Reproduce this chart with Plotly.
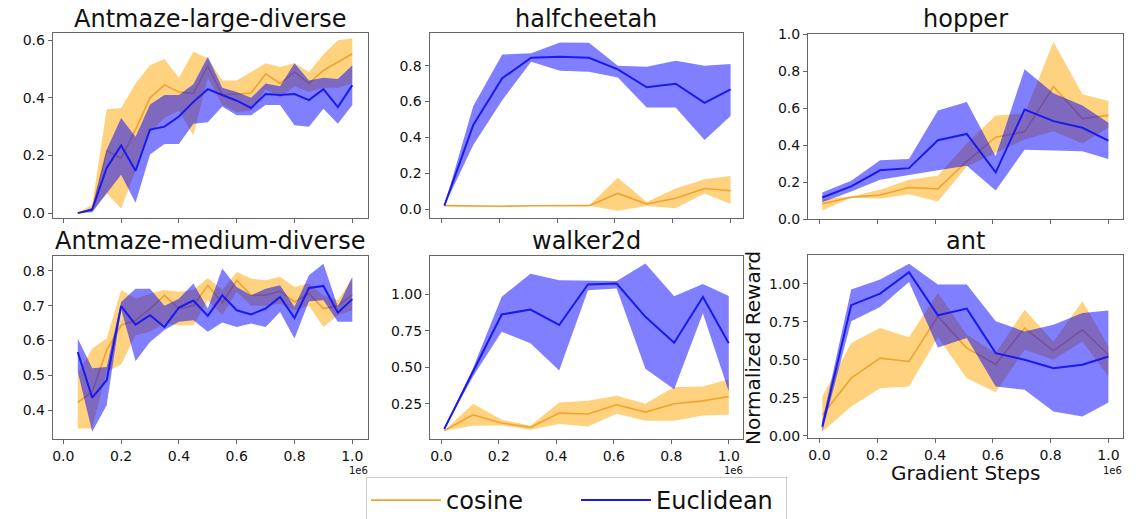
import plotly.graph_objects as go

W, H = 1142, 519

# ---------------- data ----------------
steps_antmaze = [50000, 100000, 150000, 200000, 250000, 300000, 350000, 400000, 450000, 500000,
                 550000, 600000, 650000, 700000, 750000, 800000, 850000, 900000, 950000, 1000000]
steps_mujoco = [10000, 110000, 210000, 310000, 410000, 510000, 610000, 710000, 810000, 910000, 1000000]

large_cos_mean = [0.0, 0.015, 0.217, 0.19, 0.29, 0.40, 0.445, 0.42, 0.415, 0.51, 0.41, 0.413, 0.417, 0.483, 0.45, 0.49, 0.45, 0.495, 0.525, 0.553]
large_cos_hi = [0.0, 0.03, 0.36, 0.365, 0.45, 0.513, 0.535, 0.47, 0.56, 0.537, 0.46, 0.46, 0.49, 0.52, 0.507, 0.52, 0.49, 0.55, 0.60, 0.606]
large_cos_lo = [0.0, 0.006, 0.07, 0.015, 0.145, 0.28, 0.33, 0.355, 0.27, 0.47, 0.375, 0.35, 0.355, 0.43, 0.40, 0.44, 0.42, 0.435, 0.435, 0.45]
large_euc_mean = [0.0, 0.012, 0.157, 0.235, 0.147, 0.29, 0.30, 0.335, 0.386, 0.43, 0.41, 0.39, 0.365, 0.413, 0.41, 0.413, 0.392, 0.43, 0.368, 0.444]
large_euc_hi = [0.0, 0.018, 0.22, 0.33, 0.265, 0.377, 0.41, 0.41, 0.447, 0.543, 0.435, 0.42, 0.40, 0.45, 0.44, 0.52, 0.46, 0.47, 0.465, 0.513]
large_euc_lo = [0.0, 0.003, 0.066, 0.133, 0.036, 0.203, 0.24, 0.24, 0.31, 0.315, 0.37, 0.34, 0.34, 0.375, 0.375, 0.305, 0.30, 0.362, 0.31, 0.375]

med_cos_mean = [0.422, 0.453, 0.572, 0.644, 0.658, 0.692, 0.73, 0.692, 0.70, 0.759, 0.708, 0.773, 0.73, 0.73, 0.742, 0.711, 0.735, 0.692, 0.70, 0.732]
med_cos_hi = [0.505, 0.577, 0.606, 0.745, 0.72, 0.735, 0.745, 0.74, 0.745, 0.78, 0.745, 0.797, 0.778, 0.773, 0.783, 0.754, 0.764, 0.73, 0.716, 0.778]
med_cos_lo = [0.347, 0.347, 0.51, 0.531, 0.615, 0.625, 0.649, 0.644, 0.644, 0.716, 0.673, 0.74, 0.70, 0.70, 0.706, 0.687, 0.70, 0.639, 0.673, 0.687]
med_euc_mean = [0.567, 0.436, 0.486, 0.699, 0.646, 0.673, 0.639, 0.695, 0.715, 0.671, 0.73, 0.687, 0.675, 0.692, 0.725, 0.665, 0.751, 0.757, 0.68, 0.719]
med_euc_hi = [0.606, 0.52, 0.524, 0.711, 0.749, 0.749, 0.70, 0.72, 0.764, 0.692, 0.807, 0.754, 0.73, 0.749, 0.759, 0.697, 0.788, 0.821, 0.697, 0.783]
med_euc_lo = [0.51, 0.338, 0.414, 0.69, 0.541, 0.596, 0.63, 0.654, 0.658, 0.625, 0.652, 0.639, 0.649, 0.639, 0.682, 0.606, 0.713, 0.716, 0.654, 0.654]

hc_cos_mean = [0.019, 0.017, 0.016, 0.018, 0.019, 0.019, 0.087, 0.028, 0.06, 0.115, 0.102]
hc_cos_hi = [0.019, 0.018, 0.017, 0.019, 0.02, 0.02, 0.175, 0.04, 0.115, 0.167, 0.184]
hc_cos_lo = [0.019, 0.016, 0.015, 0.017, 0.018, 0.018, -0.01, 0.017, 0.004, 0.087, 0.028]
hc_euc_mean = [0.019, 0.47, 0.73, 0.845, 0.85, 0.845, 0.78, 0.68, 0.70, 0.593, 0.668]
hc_euc_hi = [0.019, 0.575, 0.863, 0.87, 0.93, 0.928, 0.80, 0.795, 0.828, 0.80, 0.81]
hc_euc_lo = [0.019, 0.357, 0.608, 0.822, 0.772, 0.767, 0.735, 0.567, 0.567, 0.385, 0.52]

hop_cos_mean = [0.082, 0.118, 0.13, 0.17, 0.163, 0.312, 0.442, 0.471, 0.716, 0.543, 0.56]
hop_cos_hi = [0.107, 0.121, 0.158, 0.212, 0.234, 0.41, 0.56, 0.569, 0.958, 0.674, 0.638]
hop_cos_lo = [0.045, 0.116, 0.109, 0.134, 0.094, 0.284, 0.357, 0.43, 0.475, 0.408, 0.493]
hop_euc_mean = [0.116, 0.176, 0.263, 0.275, 0.426, 0.46, 0.252, 0.592, 0.529, 0.493, 0.424]
hop_euc_hi = [0.143, 0.207, 0.317, 0.324, 0.587, 0.632, 0.339, 0.81, 0.68, 0.614, 0.52]
hop_euc_lo = [0.09, 0.149, 0.212, 0.239, 0.263, 0.288, 0.154, 0.375, 0.371, 0.366, 0.324]

walk_cos_mean = [0.066, 0.175, 0.118, 0.089, 0.186, 0.18, 0.243, 0.193, 0.25, 0.27, 0.30]
walk_cos_hi = [0.066, 0.25, 0.141, 0.10, 0.259, 0.27, 0.305, 0.25, 0.364, 0.368, 0.418]
walk_cos_lo = [0.066, 0.10, 0.102, 0.073, 0.111, 0.095, 0.182, 0.134, 0.134, 0.17, 0.175]
walk_euc_mean = [0.077, 0.47, 0.861, 0.895, 0.789, 1.066, 1.073, 0.845, 0.668, 0.98, 0.664]
walk_euc_hi = [0.077, 0.493, 0.982, 1.14, 1.095, 1.095, 1.09, 1.21, 0.986, 1.07, 0.988]
walk_euc_lo = [0.077, 0.436, 0.743, 0.664, 0.477, 1.027, 1.039, 0.489, 0.35, 0.87, 0.334]

ant_cos_mean = [0.137, 0.379, 0.511, 0.489, 0.786, 0.577, 0.471, 0.709, 0.559, 0.698, 0.533]
ant_cos_hi = [0.258, 0.61, 0.709, 0.648, 0.941, 0.665, 0.544, 0.83, 0.621, 0.885, 0.59]
ant_cos_lo = [0.026, 0.192, 0.313, 0.324, 0.648, 0.379, 0.286, 0.566, 0.50, 0.621, 0.39]
ant_euc_mean = [0.06, 0.86, 0.936, 1.077, 0.793, 0.837, 0.544, 0.50, 0.445, 0.467, 0.522]
ant_euc_hi = [0.097, 0.963, 1.029, 1.132, 0.996, 0.996, 0.753, 0.687, 0.731, 0.808, 0.824]
ant_euc_lo = [0.026, 0.753, 0.848, 1.013, 0.581, 0.643, 0.324, 0.302, 0.159, 0.126, 0.218]

titles = ["Antmaze-large-diverse", "halfcheetah", "hopper",
          "Antmaze-medium-diverse", "walker2d", "ant"]
x_ticks = [0, 200000, 400000, 600000, 800000, 1000000]
x_tick_text = ["0.0", "0.2", "0.4", "0.6", "0.8", "1.0"]

# ---------------- styling / layout ----------------
COS_LINE = "#f0a330"
EUC_LINE = "#1a1aee"
COS_FILL = "rgba(255,165,0,0.5)"
EUC_FILL = "rgba(0,0,255,0.5)"
FONT = "DejaVu Sans"
BOX = "#666666"

panels = [
    dict(x=steps_antmaze, cos=(large_cos_mean, large_cos_hi, large_cos_lo),
         euc=(large_euc_mean, large_euc_hi, large_euc_lo),
         box=(52.7, 33, 368, 218), xr=(-36700, 1054300), yr=(-0.017, 0.625),
         yt=[0, 0.2, 0.4, 0.6], ytt=["0.0", "0.2", "0.4", "0.6"], xl=False),
    dict(x=steps_mujoco, cos=(hc_cos_mean, hc_cos_hi, hc_cos_lo),
         euc=(hc_euc_mean, hc_euc_hi, hc_euc_lo),
         box=(429.5, 33, 743, 218), xr=(-41500, 1043000), yr=(-0.05, 0.983),
         yt=[0, 0.2, 0.4, 0.6, 0.8], ytt=["0.0", "0.2", "0.4", "0.6", "0.8"], xl=False),
    dict(x=steps_mujoco, cos=(hop_cos_mean, hop_cos_hi, hop_cos_lo),
         euc=(hop_euc_mean, hop_euc_hi, hop_euc_lo),
         box=(808, 34, 1122.7, 219), xr=(-39500, 1049500), yr=(0.0, 1.0),
         yt=[0, 0.2, 0.4, 0.6, 0.8, 1.0], ytt=["0.0", "0.2", "0.4", "0.6", "0.8", "1.0"], xl=False),
    dict(x=steps_antmaze, cos=(med_cos_mean, med_cos_hi, med_cos_lo),
         euc=(med_euc_mean, med_euc_hi, med_euc_lo),
         box=(52.7, 256, 368, 439), xr=(-36700, 1054300), yr=(0.317, 0.843),
         yt=[0.4, 0.5, 0.6, 0.7, 0.8], ytt=["0.4", "0.5", "0.6", "0.7", "0.8"], xl=True),
    dict(x=steps_mujoco, cos=(walk_cos_mean, walk_cos_hi, walk_cos_lo),
         euc=(walk_euc_mean, walk_euc_hi, walk_euc_lo),
         box=(430, 256, 743, 439), xr=(-39500, 1049500), yr=(0.009, 1.261),
         yt=[0.25, 0.5, 0.75, 1.0], ytt=["0.25", "0.50", "0.75", "1.00"], xl=True),
    dict(x=steps_mujoco, cos=(ant_cos_mean, ant_cos_hi, ant_cos_lo),
         euc=(ant_euc_mean, ant_euc_hi, ant_euc_lo),
         box=(808, 255, 1122.7, 438), xr=(-39500, 1049500), yr=(-0.015, 1.19),
         yt=[0, 0.25, 0.5, 0.75, 1.0], ytt=["0.00", "0.25", "0.50", "0.75", "1.00"], xl=True),
]

fig = go.Figure()
layout = dict(
    width=W, height=H,
    margin=dict(l=0, r=0, t=0, b=0, autoexpand=False),
    paper_bgcolor="white", plot_bgcolor="white",
    font=dict(family=FONT, color="#111111", size=14),
    showlegend=True,
)
annotations = []

for i, p in enumerate(panels):
    k = "" if i == 0 else str(i + 1)
    xa, ya = "x" + k, "y" + k
    x0, y0, x1, y1 = p["box"]
    xs = p["x"]
    for name, (mean, hi, lo), fill, lc, lw in (
        ("cosine", p["cos"], COS_FILL, COS_LINE, 1.6),
        ("Euclidean", p["euc"], EUC_FILL, EUC_LINE, 2.0),
    ):
        fig.add_trace(go.Scatter(
            x=list(xs) + list(xs)[::-1], y=list(hi) + list(lo)[::-1],
            fill="toself", fillcolor=fill, line=dict(width=0, color=fill),
            mode="lines", hoverinfo="skip", showlegend=False,
            xaxis=xa, yaxis=ya, legendgroup=name))
        fig.add_trace(go.Scatter(
            x=xs, y=mean, mode="lines", name=name,
            line=dict(color=lc, width=lw),
            showlegend=(i == 0), legendgroup=name,
            xaxis=xa, yaxis=ya))
    axis_common = dict(showline=True, mirror=True, linecolor=BOX, linewidth=1,
                       showgrid=False, zeroline=False, ticks="outside",
                       ticklen=4, tickcolor=BOX, tickwidth=1,
                       tickfont=dict(family=FONT, size=14, color="#111111"))
    layout["xaxis" + k] = dict(
        axis_common, domain=[x0 / W, x1 / W], range=list(p["xr"]),
        anchor=ya, tickmode="array", tickvals=x_ticks,
        ticktext=x_tick_text, showticklabels=p["xl"])
    layout["yaxis" + k] = dict(
        axis_common, domain=[1 - y1 / H, 1 - y0 / H], range=list(p["yr"]),
        anchor=xa, tickmode="array", tickvals=p["yt"], ticktext=p["ytt"])
    # subplot title
    ty = 19 if y0 < 100 else 241
    annotations.append(dict(
        text=titles[i], x=(x0 + x1) / 2 / W, y=1 - ty / H,
        xref="paper", yref="paper", xanchor="center", yanchor="middle",
        showarrow=False, font=dict(family=FONT, size=24, color="#111111")))
    if p["xl"]:
        annotations.append(dict(
            text="1e6", x=(x1 - 10) / W, y=1 - 470 / H, xref="paper", yref="paper",
            xanchor="center", yanchor="middle", showarrow=False,
            font=dict(family=FONT, size=10, color="#111111")))

annotations.append(dict(
    text="Normalized Reward", x=753 / W, y=1 - 348 / H, xref="paper", yref="paper",
    textangle=-90, xanchor="center", yanchor="middle", showarrow=False,
    font=dict(family=FONT, size=20, color="#111111")))
annotations.append(dict(
    text="Gradient Steps", x=965 / W, y=1 - 473 / H, xref="paper", yref="paper",
    xanchor="center", yanchor="middle", showarrow=False,
    font=dict(family=FONT, size=20, color="#111111")))

layout["annotations"] = annotations
layout["legend"] = dict(
    orientation="h", x=366 / W, y=1 - 477 / H, xanchor="left", yanchor="top",
    font=dict(family=FONT, size=24, color="#111111"),
    bordercolor="#cccccc", borderwidth=1, bgcolor="white",
    entrywidth=125, entrywidthmode="pixels", itemwidth=70,
)
fig.update_layout(**layout)
fig.write_html("out.html")
